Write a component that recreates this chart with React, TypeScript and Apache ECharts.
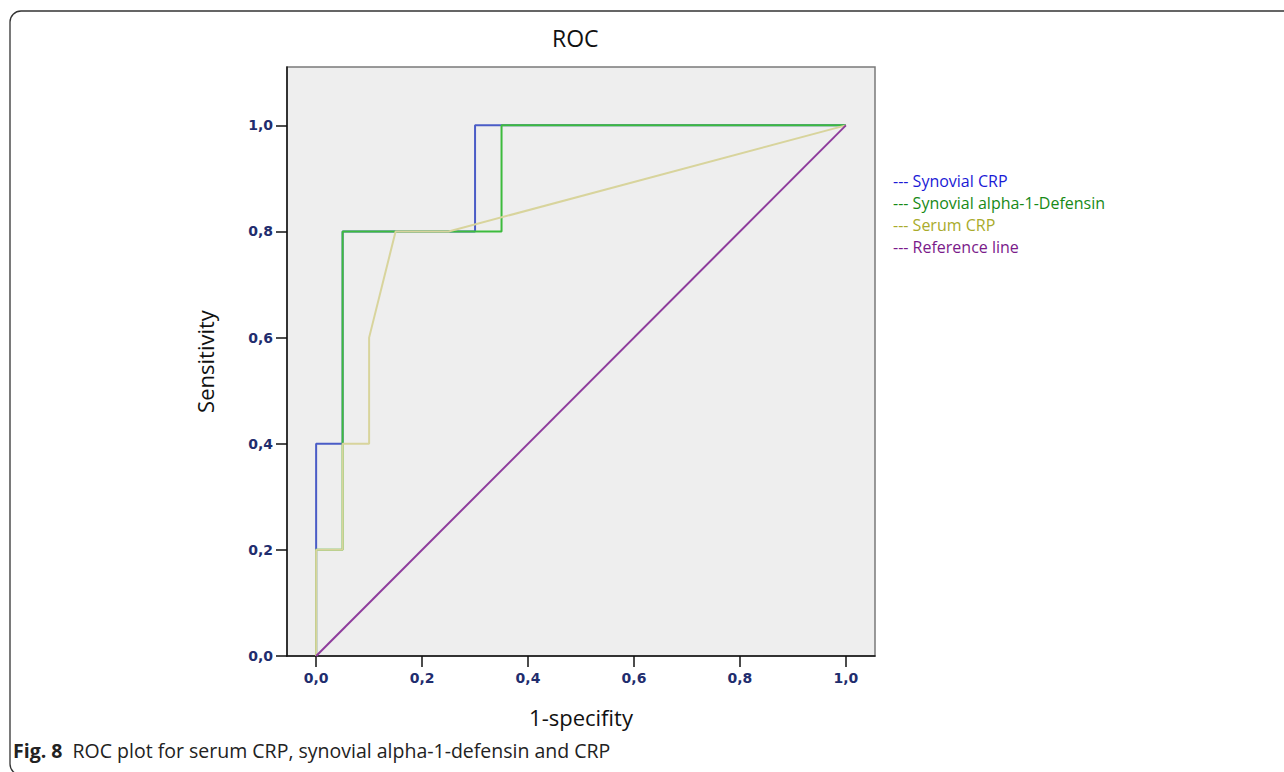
import React, { useEffect, useRef } from "react";
import * as echarts from "echarts";

const seriesNames = ["Synovial CRP", "Synovial alpha-1-Defensin", "Serum CRP", "Reference line"];
const synovialCrp: [number, number][] = [
  [0, 0], [0, 0.4], [0.05, 0.4], [0.05, 0.8], [0.3, 0.8], [0.3, 1.0], [1, 1.0],
];
const synovialDefensin: [number, number][] = [
  [0, 0], [0, 0.2], [0.05, 0.2], [0.05, 0.8], [0.35, 0.8], [0.35, 1.0], [1, 1.0],
];
const serumCrp: [number, number][] = [
  [0, 0], [0, 0.2], [0.05, 0.2], [0.05, 0.4], [0.1, 0.4], [0.1, 0.6], [0.15, 0.8], [0.25, 0.8], [1, 1.0],
];
const referenceLine: [number, number][] = [
  [0, 0], [1, 1],
];
const tickValues = [0, 0.2, 0.4, 0.6, 0.8, 1.0];

const lineColors = ["#4a5cc6", "#3dbb3d", "#d8d49c", "#8e3c9c"];
const legendTextColors = ["#1a1ad6", "#178a17", "#a9ab2c", "#7a1a8a"];

const fmt = (v: number) => v.toFixed(1).replace(".", ",");

export default function App() {
  const ref = useRef<HTMLDivElement>(null);
  useEffect(() => {
    if (!ref.current) return;
    const chart = echarts.init(ref.current, null, { renderer: "svg" });
    const labelStyle = {
      color: "#1f2d6e",
      fontSize: 14,
      fontWeight: "bold" as const,
      fontFamily: "DejaVu Sans",
      formatter: (v: number) => fmt(v),
    };
    const datas = [synovialCrp, synovialDefensin, serumCrp, referenceLine];
    chart.setOption({
      animation: false,
      backgroundColor: "#ffffff",
      title: {
        text: "ROC",
        left: 547,
        top: 21,
        textStyle: { fontFamily: "Open Sans", fontSize: 23, fontWeight: "normal", color: "#111" },
      },
      legend: {
        orient: "vertical",
        left: 883,
        top: 168,
        icon: "none",
        itemWidth: 0,
        itemHeight: 16,
        itemGap: 6,
        selectedMode: false,
        data: seriesNames.map((n, i) => ({
          name: n,
          textStyle: { color: legendTextColors[i] },
        })),
        formatter: (n: string) => "--- " + n,
        textStyle: { fontFamily: "Open Sans", fontSize: 16, padding: 0 },
      },
      grid: {
        left: 287,
        top: 67,
        width: 588,
        height: 589,
        show: true,
        backgroundColor: "#eeeeee",
        borderColor: "#7a7a7a",
        borderWidth: 1.5,
      },
      xAxis: {
        type: "value",
        min: -0.055,
        max: 1.055,
        name: "1-specifity",
        nameLocation: "middle",
        nameGap: 50,
        nameTextStyle: { fontFamily: "Open Sans", fontSize: 22, color: "#111" },
        splitLine: { show: false },
        axisLine: { show: true, onZero: false, lineStyle: { color: "#111", width: 1.5 } },
        axisTick: { show: true, length: 11, customValues: tickValues, lineStyle: { color: "#111", width: 1.5 } },
        axisLabel: { ...labelStyle, customValues: tickValues, margin: 15 },
      },
      yAxis: {
        type: "value",
        min: 0,
        max: 1.11,
        name: "Sensitivity",
        nameLocation: "middle",
        nameGap: 71,
        nameTextStyle: { fontFamily: "Open Sans", fontSize: 22, color: "#111" },
        splitLine: { show: false },
        axisLine: { show: true, onZero: false, lineStyle: { color: "#111", width: 1.5 } },
        axisTick: { show: true, length: 11, customValues: tickValues, lineStyle: { color: "#111", width: 1.5 } },
        axisLabel: { ...labelStyle, customValues: tickValues, margin: 14 },
      },
      series: seriesNames.map((n, i) => ({
        name: n,
        type: "line",
        data: datas[i],
        symbol: "none",
        color: lineColors[i],
        lineStyle: { color: lineColors[i], width: 2 },
        z: 2 + i,
      })),
      graphic: [
        {
          type: "rect",
          shape: { x: 10, y: 11, width: 1300, height: 764, r: 11 },
          style: { fill: "none", stroke: "#333", lineWidth: 1.3 },
          silent: true,
          z: 100,
        },
        {
          type: "text",
          left: 13,
          top: 740,
          style: {
            text: "{b|Fig. 8}  ROC plot for serum CRP, synovial alpha-1-defensin and CRP",
            fontFamily: "Open Sans",
            fontSize: 19.5,
            fill: "#222",
            rich: {
              b: { fontFamily: "Open Sans", fontSize: 19.5, fontWeight: "bold", fill: "#222" },
            },
          },
        },
      ],
    });
    return () => chart.dispose();
  }, []);
  return (
    <div
      ref={ref}
      style={{ position: "fixed", left: 0, top: 0, width: 1284, height: 772 }}
    />
  );
}
